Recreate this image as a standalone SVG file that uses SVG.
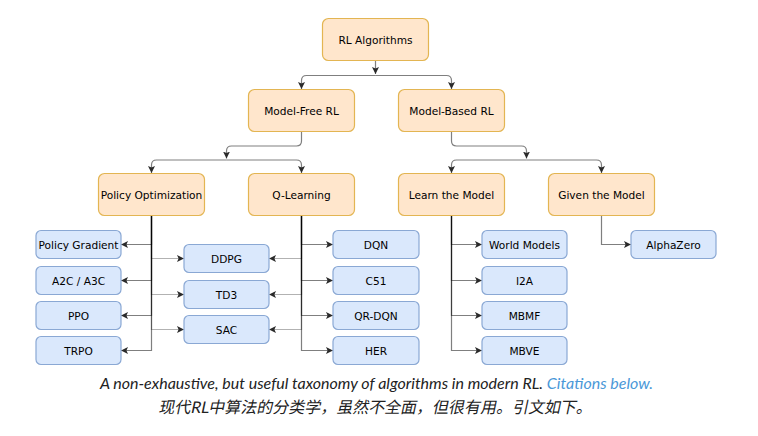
<svg xmlns="http://www.w3.org/2000/svg" width="758" height="436" viewBox="0 0 758 436">
<style>
.o{fill:#ffe6cc;stroke:#e3b552;stroke-width:1.2}
.b{fill:#dae8fc;stroke:#8aa8d4;stroke-width:1.2}
.t{font-family:"DejaVu Sans",Verdana,sans-serif;font-size:10.6px;fill:#000;text-anchor:middle}
.e{fill:none;stroke:#000;stroke-opacity:0.5;stroke-width:1.2;marker-end:url(#a)}
.x{fill:none;stroke:#000;stroke-opacity:0.3;stroke-width:1.2;marker-end:url(#a)}
.c{font-family:Lato,"Noto Sans CJK SC",sans-serif;font-style:italic;font-size:16px;fill:#222;text-anchor:middle}
.z{font-family:Lato,"Noto Sans CJK SC",sans-serif;font-size:16px;fill:#222;text-anchor:middle}
</style>
<defs>
<marker id="a" markerUnits="userSpaceOnUse" markerWidth="8" markerHeight="8" refX="7" refY="3.5" orient="auto">
<path d="M0,0 L7,3.5 L0,7 L1.6,3.5 z" fill="#2a2a2a"/>
</marker>
</defs>
<rect width="758" height="436" fill="#fff"/>
<g id="connectors">
<path class="e" d="M375.5,61 V74"/>
<path class="e" d="M375.5,75.5 H306.5 Q301.5,75.5 301.5,80.5 V89"/>
<path class="e" d="M375.5,75.5 H446.5 Q451.5,75.5 451.5,80.5 V89"/>
<path class="e" d="M301.5,132 V141 Q301.5,146 296.5,146 H231.5 Q226.5,146 226.5,151 V158.5"/>
<path class="e" d="M226.5,160 H156.5 Q151.5,160 151.5,165 V173"/>
<path class="e" d="M226.5,160 H296.5 Q301.5,160 301.5,165 V173"/>
<path class="e" d="M451.5,132 V141 Q451.5,146 456.5,146 H521.5 Q526.5,146 526.5,151 V158.5"/>
<path class="e" d="M526.5,160 H456.5 Q451.5,160 451.5,165 V173"/>
<path class="e" d="M526.5,160 H596.5 Q601.5,160 601.5,165 V173"/>
<path class="e" d="M151.5,216 V244.5 H121"/>
<path class="e" d="M151.5,216 V280.5 H121"/>
<path class="e" d="M151.5,216 V315.5 H121"/>
<path class="e" d="M151.5,216 V350.5 H121"/>
<path class="x" d="M151.5,216 V258.5 H184"/>
<path class="x" d="M151.5,216 V294.5 H184"/>
<path class="x" d="M151.5,216 V329.5 H184"/>
<path class="e" d="M301.5,216 V244.5 H333"/>
<path class="e" d="M301.5,216 V280.5 H333"/>
<path class="e" d="M301.5,216 V315.5 H333"/>
<path class="e" d="M301.5,216 V350.5 H333"/>
<path class="x" d="M301.5,216 V258.5 H269"/>
<path class="x" d="M301.5,216 V294.5 H269"/>
<path class="x" d="M301.5,216 V329.5 H269"/>
<path class="e" d="M451.5,216 V244.5 H482"/>
<path class="e" d="M451.5,216 V280.5 H482"/>
<path class="e" d="M451.5,216 V315.5 H482"/>
<path class="e" d="M451.5,216 V350.5 H482"/>
<path class="e" d="M601.5,216 V244.5 H631"/>
</g>
<g id="rl-algorithms"><rect class="o" x="322.5" y="18.5" width="106" height="42" rx="6"/><text class="t" x="375.5" y="43.5">RL Algorithms</text></g>
<g id="model-free"><rect class="o" x="248.5" y="89.5" width="106" height="42" rx="6"/><text class="t" x="301.5" y="114.5">Model-Free RL</text></g>
<g id="model-based"><rect class="o" x="398.5" y="89.5" width="106" height="42" rx="6"/><text class="t" x="451.5" y="114.5">Model-Based RL</text></g>
<g id="policy-optimization"><rect class="o" x="98.5" y="173.5" width="106" height="42" rx="6"/><text class="t" x="151.5" y="198.5">Policy Optimization</text></g>
<g id="q-learning"><rect class="o" x="248.5" y="173.5" width="106" height="42" rx="6"/><text class="t" x="301.5" y="198.5">Q-Learning</text></g>
<g id="learn-model"><rect class="o" x="398.5" y="173.5" width="106" height="42" rx="6"/><text class="t" x="451.5" y="198.5">Learn the Model</text></g>
<g id="given-model"><rect class="o" x="548.5" y="173.5" width="106" height="42" rx="6"/><text class="t" x="601.5" y="198.5">Given the Model</text></g>
<g id="policy-gradient"><rect class="b" x="36" y="230.5" width="85" height="28" rx="5"/><text class="t" x="78.5" y="248.5">Policy Gradient</text></g>
<g id="a2c"><rect class="b" x="36" y="266.5" width="85" height="28" rx="5"/><text class="t" x="78.5" y="284.5">A2C / A3C</text></g>
<g id="ppo"><rect class="b" x="36" y="301.5" width="85" height="28" rx="5"/><text class="t" x="78.5" y="319.5">PPO</text></g>
<g id="trpo"><rect class="b" x="36" y="336.5" width="85" height="28" rx="5"/><text class="t" x="78.5" y="354.5">TRPO</text></g>
<g id="ddpg"><rect class="b" x="184" y="244.5" width="85" height="28" rx="5"/><text class="t" x="226.5" y="262.5">DDPG</text></g>
<g id="td3"><rect class="b" x="184" y="280.5" width="85" height="28" rx="5"/><text class="t" x="226.5" y="298.5">TD3</text></g>
<g id="sac"><rect class="b" x="184" y="315.5" width="85" height="28" rx="5"/><text class="t" x="226.5" y="333.5">SAC</text></g>
<g id="dqn"><rect class="b" x="333" y="230.5" width="86" height="28" rx="5"/><text class="t" x="376" y="248.5">DQN</text></g>
<g id="c51"><rect class="b" x="333" y="266.5" width="86" height="28" rx="5"/><text class="t" x="376" y="284.5">C51</text></g>
<g id="qr-dqn"><rect class="b" x="333" y="301.5" width="86" height="28" rx="5"/><text class="t" x="376" y="319.5">QR-DQN</text></g>
<g id="her"><rect class="b" x="333" y="336.5" width="86" height="28" rx="5"/><text class="t" x="376" y="354.5">HER</text></g>
<g id="world-models"><rect class="b" x="482" y="230.5" width="85" height="28" rx="5"/><text class="t" x="524.5" y="248.5">World Models</text></g>
<g id="i2a"><rect class="b" x="482" y="266.5" width="85" height="28" rx="5"/><text class="t" x="524.5" y="284.5">I2A</text></g>
<g id="mbmf"><rect class="b" x="482" y="301.5" width="85" height="28" rx="5"/><text class="t" x="524.5" y="319.5">MBMF</text></g>
<g id="mbve"><rect class="b" x="482" y="336.5" width="85" height="28" rx="5"/><text class="t" x="524.5" y="354.5">MBVE</text></g>
<g id="alphazero"><rect class="b" x="631" y="230.5" width="85" height="28" rx="5"/><text class="t" x="673.5" y="248.5">AlphaZero</text></g>
<text class="c" x="376.5" y="388.5">A non-exhaustive, but useful taxonomy of algorithms in modern RL. <tspan fill="#4a98d8">Citations below.</tspan></text>
<text class="z" x="462.8" y="413" transform="skewX(-12)">现代RL中算法的分类学，虽然不全面，但很有用。引文如下。</text>
</svg>
